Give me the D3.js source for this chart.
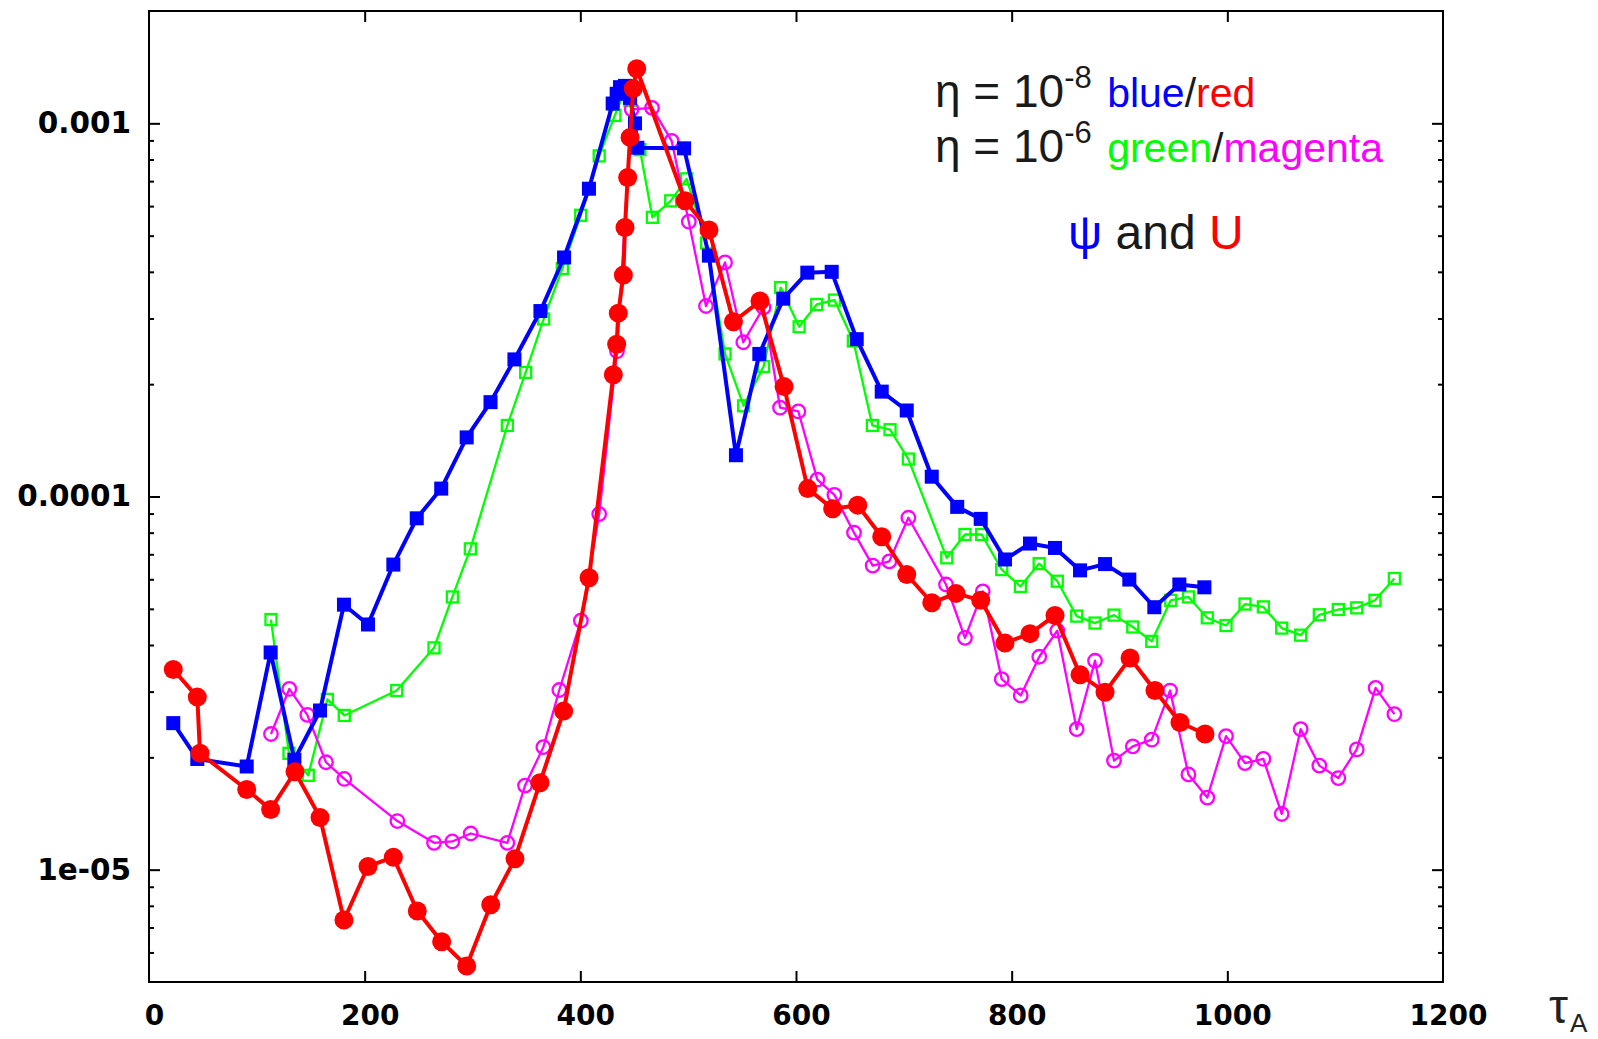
<!DOCTYPE html>
<html><head><meta charset="utf-8">
<script src="https://cdnjs.cloudflare.com/ajax/libs/d3/7.8.5/d3.min.js"></script>
<style>html,body{margin:0;padding:0;background:#fff;}svg{display:block;}</style>
</head><body>
<svg id="chart" width="1598" height="1039"></svg>
<script>
// ---- data (tau_A, amplitude) ----
const blueT = [22.5,44.8,90.6,112.8,134.8,158.6,180.8,203.1,226.6,248.3,271.0,294.6,316.7,338.9,363.0,384.9,408.0,430.0,433.7,436.8,441.4,446.1,450.7,452.9,496.2,519.2,544.3,566.0,588.2,610.5,633.1,656.3,679.5,702.7,725.9,749.5,771.3,793.8,817.0,840.2,863.4,886.6,909.1,932.3,955.5,978.7];
const blueV = [2.47e-5,1.98e-5,1.89e-5,3.82e-5,1.97e-5,2.67e-5,5.13e-5,4.54e-5,6.57e-5,8.74e-5,1.05e-4,1.44e-4,1.79e-4,2.33e-4,3.14e-4,4.37e-4,6.68e-4,1.13e-3,1.20e-3,1.25e-3,1.26e-3,1.17e-3,1.0e-3,8.6e-4,8.57e-4,4.42e-4,1.29e-4,2.41e-4,3.39e-4,3.98e-4,4.0e-4,2.64e-4,1.91e-4,1.70e-4,1.13e-4,9.38e-5,8.71e-5,6.78e-5,7.48e-5,7.28e-5,6.34e-5,6.59e-5,5.99e-5,5.05e-5,5.81e-5,5.71e-5];

const redT = [22.5,44.8,47.3,90.6,112.8,135.4,158.6,180.8,203.1,226.6,248.8,271.4,294.6,316.9,339.4,362.6,384.5,408.1,430.6,433.7,435.2,439.9,441.4,443.9,446.1,449.1,452.3,497.1,519.3,542.0,566.6,588.9,610.9,634.0,657.2,679.5,702.7,725.9,748.4,771.3,793.8,817.0,840.2,863.4,886.6,909.8,932.9,956.1,979.3];
const redV = [3.44e-5,2.90e-5,2.05e-5,1.64e-5,1.45e-5,1.83e-5,1.38e-5,7.33e-6,1.02e-5,1.08e-5,7.75e-6,6.41e-6,5.52e-6,8.05e-6,1.07e-5,1.71e-5,2.66e-5,6.06e-5,2.12e-4,2.56e-4,3.10e-4,3.92e-4,5.26e-4,7.16e-4,9.17e-4,1.24e-3,1.40e-3,6.20e-4,5.18e-4,2.94e-4,3.34e-4,1.97e-4,1.05e-4,9.27e-5,9.48e-5,7.8e-5,6.18e-5,5.19e-5,5.50e-5,5.27e-5,4.05e-5,4.29e-5,4.80e-5,3.33e-5,2.99e-5,3.69e-5,3.02e-5,2.48e-5,2.31e-5];

const greenT = [113.1,129.8,147.7,165.4,181.1,229.7,264.3,281.3,298.0,332.3,349.3,366.0,383.3,400.3,417.5,432,440,446,455.3,466.8,483.8,498.6,517.1,534.2,551.4,569.9,585.8,602.9,619.2,635.6,653.2,670.8,687.2,704.2,739.8,756.7,772.2,790.8,808.1,825.5,842.3,860.3,877.3,894.9,912.3,929.9,947.5,963.9,981.4,998.8,1016.4,1033.4,1050.4,1068.0,1085.3,1102.9,1120.0,1136.9,1154.9];
const greenV = [4.68e-5,2.05e-5,1.79e-5,2.86e-5,2.59e-5,3.02e-5,3.93e-5,5.38e-5,7.24e-5,1.55e-4,2.15e-4,2.99e-4,4.08e-4,5.67e-4,8.18e-4,1.05e-3,1.2e-3,1.15e-3,8.5e-4,5.6e-4,6.2e-4,7.1e-4,4.78e-4,2.41e-4,1.75e-4,2.23e-4,3.63e-4,2.85e-4,3.27e-4,3.36e-4,2.61e-4,1.55e-4,1.51e-4,1.26e-4,6.85e-5,7.91e-5,7.91e-5,6.37e-5,5.74e-5,6.61e-5,5.93e-5,4.78e-5,4.58e-5,4.81e-5,4.47e-5,4.09e-5,5.27e-5,5.38e-5,4.73e-5,4.51e-5,5.15e-5,5.06e-5,4.44e-5,4.25e-5,4.82e-5,4.98e-5,5.03e-5,5.27e-5,6.03e-5];

const magT = [113.1,130.1,146.8,164.1,181.1,230.3,264.3,281.3,298.3,332.3,348.7,365.7,380.5,400.5,417.5,434.0,447.6,466.5,484.7,500.6,516.5,534.2,551.1,569.9,585.2,602.2,619.8,635.6,653.8,671.1,686.5,704.2,739.1,756.7,773.2,790.8,808.4,825.6,842.3,860.3,877.3,894.9,912.3,929.9,946.9,963.9,981.4,998.8,1016.4,1033.4,1050.4,1068.0,1085.3,1102.9,1120.0,1137.5,1154.9];
const magV = [2.31e-5,3.05e-5,2.60e-5,1.94e-5,1.75e-5,1.35e-5,1.18e-5,1.19e-5,1.25e-5,1.18e-5,1.68e-5,2.13e-5,3.03e-5,4.65e-5,8.97e-5,2.45e-4,1.09e-3,1.10e-3,8.97e-4,5.45e-4,3.24e-4,4.24e-4,2.59e-4,3.21e-4,1.73e-4,1.69e-4,1.11e-4,1.01e-4,8.0e-5,6.53e-5,6.70e-5,8.77e-5,5.81e-5,4.18e-5,5.57e-5,3.24e-5,2.93e-5,3.72e-5,4.37e-5,2.38e-5,3.63e-5,1.96e-5,2.14e-5,2.23e-5,3.02e-5,1.80e-5,1.56e-5,2.28e-5,1.93e-5,1.98e-5,1.41e-5,2.38e-5,1.90e-5,1.76e-5,2.10e-5,3.07e-5,2.61e-5];

const xTicks = [0,200,400,600,800,1000,1200];
const yTicks = [1e-5,1e-4,1e-3];
const yTickLabels = ["1e-05","0.0001","0.001"];

// ---- layout ----
const L = 149, R = 1443, T = 11, B = 982;
const svg = d3.select("#chart");
const x = d3.scaleLinear().domain([0,1200]).range([L,R]);
const y = d3.scaleLog().domain([5e-6,2e-3]).range([B,T]);

// minor ticks on log axis
const minor = [];
[1e-6,1e-5,1e-4,1e-3].forEach(d => { for (let k=2;k<=9;k++){ const v=k*d; if (v>5e-6 && v<2e-3) minor.push(v);} });

const tickFont = "'DejaVu Sans', sans-serif";

// left axis
const gl = svg.append("g").attr("transform",`translate(${L},0)`)
  .call(d3.axisLeft(y).tickValues(yTicks).tickSize(-11).tickPadding(18).tickFormat((d,i)=>yTickLabels[i]));
const glm = svg.append("g").attr("transform",`translate(${L},0)`)
  .call(d3.axisLeft(y).tickValues(minor).tickSize(-5).tickFormat(""));
// right axis (mirror)
const gr = svg.append("g").attr("transform",`translate(${R},0)`)
  .call(d3.axisRight(y).tickValues(yTicks).tickSize(-11).tickFormat(""));
const grm = svg.append("g").attr("transform",`translate(${R},0)`)
  .call(d3.axisRight(y).tickValues(minor).tickSize(-5).tickFormat(""));
// bottom axis
const gb = svg.append("g").attr("transform",`translate(0,${B})`)
  .call(d3.axisBottom(x).tickValues(xTicks).tickSize(-11).tickPadding(23).tickFormat(d3.format("d")));
// top mirror
const gt = svg.append("g").attr("transform",`translate(0,${T})`)
  .call(d3.axisTop(x).tickValues(xTicks).tickSize(-11).tickFormat(""));

[gl,glm,gr,grm,gb,gt].forEach(g => {
  g.select(".domain").remove();
  g.selectAll(".tick line").attr("stroke","#000").attr("stroke-width",2);
});
gl.selectAll("text").attr("font-family",tickFont).attr("font-weight","bold").attr("font-size",29.5).attr("fill","#000");
gb.selectAll("text").attr("font-family",tickFont).attr("font-weight","bold").attr("font-size",28).attr("fill","#000").attr("dx",5);
gb.selectAll(".tick line").filter(d => d===0 || d===1200).remove();
gt.selectAll(".tick line").filter(d => d===0 || d===1200).remove();

// frame
svg.append("rect").attr("x",L).attr("y",T).attr("width",R-L).attr("height",B-T)
  .attr("fill","none").attr("stroke","#000").attr("stroke-width",2);

// x-axis title tau_A
svg.append("text").attr("x",1549).attr("y",1023).attr("font-family","'Liberation Sans', sans-serif")
  .attr("font-size",48).attr("fill","#222").text("τ");
svg.append("text").attr("x",1570).attr("y",1032).attr("font-family","'Liberation Sans', sans-serif")
  .attr("font-size",26).attr("fill","#222").text("A");

// ---- series ----
const plot = svg.append("g");
function series(ts, vs, color, lw, marker, size, sw) {
  const pts = ts.map((t,i)=>[t,vs[i]]);
  const line = d3.line().x(d=>x(d[0])).y(d=>y(d[1]));
  plot.append("path").datum(pts).attr("d",line).attr("fill","none")
    .attr("stroke",color).attr("stroke-width",lw).attr("stroke-linejoin","round");
  const g = plot.append("g");
  if (marker === "fsq") {
    g.selectAll("rect").data(pts).join("rect")
      .attr("x",d=>x(d[0])-size/2).attr("y",d=>y(d[1])-size/2)
      .attr("width",size).attr("height",size).attr("fill",color);
  } else if (marker === "osq") {
    g.selectAll("rect").data(pts).join("rect")
      .attr("x",d=>x(d[0])-size/2).attr("y",d=>y(d[1])-size/2)
      .attr("width",size).attr("height",size).attr("fill","none").attr("stroke",color).attr("stroke-width",sw);
  } else if (marker === "fci") {
    g.selectAll("circle").data(pts).join("circle")
      .attr("cx",d=>x(d[0])).attr("cy",d=>y(d[1])).attr("r",size/2).attr("fill",color);
  } else {
    g.selectAll("circle").data(pts).join("circle")
      .attr("cx",d=>x(d[0])).attr("cy",d=>y(d[1])).attr("r",size/2)
      .attr("fill","none").attr("stroke",color).attr("stroke-width",sw);
  }
}
series(greenT, greenV, "#00ff00", 2.3, "osq", 11, 2.3);
series(magT, magV, "#ff00ff", 2.3, "oci", 13.5, 2.3);
series(blueT, blueV, "#0000ff", 4, "fsq", 14);
series(redT, redV, "#ff0000", 4, "fci", 19);

// ---- annotation ----
const af = "'Liberation Sans', Arial, sans-serif";
function etaLine(yBase, exp, c1, w1, c2, w2) {
  const t = svg.append("text").attr("x",935).attr("y",yBase).attr("font-family",af).attr("fill","#1a1a1a");
  t.append("tspan").attr("font-size",46).text("η = 10");
  t.append("tspan").attr("font-size",31).attr("dy",-19).text(exp);
  t.append("tspan").attr("font-size",41).attr("dy",19).attr("dx",4).attr("fill",c1).text(" " + w1);
  t.append("tspan").attr("font-size",41).text("/");
  t.append("tspan").attr("font-size",41).attr("fill",c2).text(w2);
}
etaLine(107, "-8", "#0000ff", "blue", "#ff0000", "red");
etaLine(162, "-6", "#00ff00", "green", "#ff00ff", "magenta");
const t3 = svg.append("text").attr("x",1068).attr("y",249).attr("font-family",af).attr("font-size",48).attr("fill","#1a1a1a");
t3.append("tspan").attr("fill","#0000ff").text("ψ");
t3.append("tspan").text(" and ");
t3.append("tspan").attr("fill","#ff0000").text("U");
</script>
</body></html>
